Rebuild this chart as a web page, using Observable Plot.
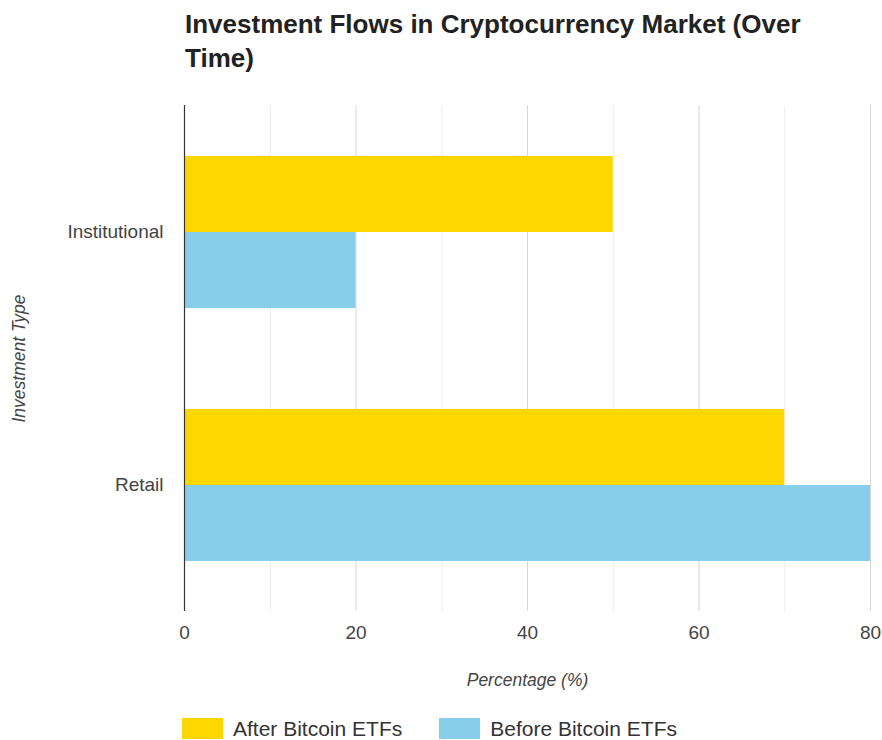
<!DOCTYPE html>
<html><head><meta charset="utf-8">
<script src="https://cdn.jsdelivr.net/npm/d3@7"></script>
<script src="https://cdn.jsdelivr.net/npm/@observablehq/plot@0.6"></script>
<style>
body{margin:0;background:#fff;font-family:Arial,"Liberation Sans",sans-serif;}
#wrap{position:relative;width:882px;height:740px;overflow:hidden;}
#title{position:absolute;left:185px;top:7px;width:645px;font-size:26px;font-weight:bold;line-height:34px;color:#222;text-align:left;}
#chart{position:absolute;left:0;top:90px;}
#legend{position:absolute;left:182px;top:712px;}
#legend span{margin-right:37px !important;font-size:21px;color:#333;}
#legend svg{margin-right:10px !important;}
#chart g[aria-label="x-axis label"], #chart g[aria-label="fy-axis label"]{font-style:italic;font-size:17.5px;}
</style>
</head><body>
<div id="wrap">
  <div id="title">Investment Flows in Cryptocurrency Market (Over Time)</div>
  <div id="chart"></div>
  <div id="legend"></div>
</div>
<script>
const types = ["Institutional", "Retail"];
const series = ["After Bitcoin ETFs", "Before Bitcoin ETFs"];
const afterValues = [50, 70];
const beforeValues = [20, 80];
const colors = ["#FFD700", "#87CEEB"];
const xTicks = [0, 20, 40, 60, 80];
const minorTicks = [10, 30, 50, 70];

const data = types.flatMap((t, i) => [
  {type: t, series: series[0], value: afterValues[i]},
  {type: t, series: series[1], value: beforeValues[i]}
]);

const chart = Plot.plot({
  width: 882,
  height: 610,
  marginTop: 15,
  marginBottom: 89,
  marginLeft: 184,
  marginRight: 12,
  style: {fontFamily: 'Arial, "Liberation Sans", sans-serif', fontSize: "19px", color: "#444", background: "#fff"},
  x: {domain: [0, 80], ticks: xTicks, tickSize: 0, tickPadding: 14, label: "Percentage (%)", labelAnchor: "center", labelOffset: 74, labelArrow: "none"},
  fy: {domain: types, padding: 0, axis: "left", tickSize: 0, tickPadding: 21, label: "Investment Type", labelAnchor: "center", labelOffset: 172},
  y: {domain: series, axis: null, paddingInner: 0, paddingOuter: 0.643},
  color: {domain: series, range: colors},
  marks: [
    Plot.ruleX(minorTicks, {stroke: "#ececec", strokeWidth: 1}),
    Plot.ruleX(xTicks.slice(1), {stroke: "#d6d6d6", strokeWidth: 1}),
    Plot.barX(data, {x: "value", y: "series", fy: "type", fill: "series"}),
    Plot.ruleX([0], {stroke: "#333", strokeWidth: 1.2})
  ]
});
document.getElementById("chart").appendChild(chart);

const legend = Plot.legend({
  color: {domain: series, range: colors},
  swatchWidth: 41,
  swatchHeight: 21,
  style: {fontFamily: 'Arial, "Liberation Sans", sans-serif', fontSize: "21px", color: "#333"}
});
document.getElementById("legend").appendChild(legend);
</script>
</body></html>
